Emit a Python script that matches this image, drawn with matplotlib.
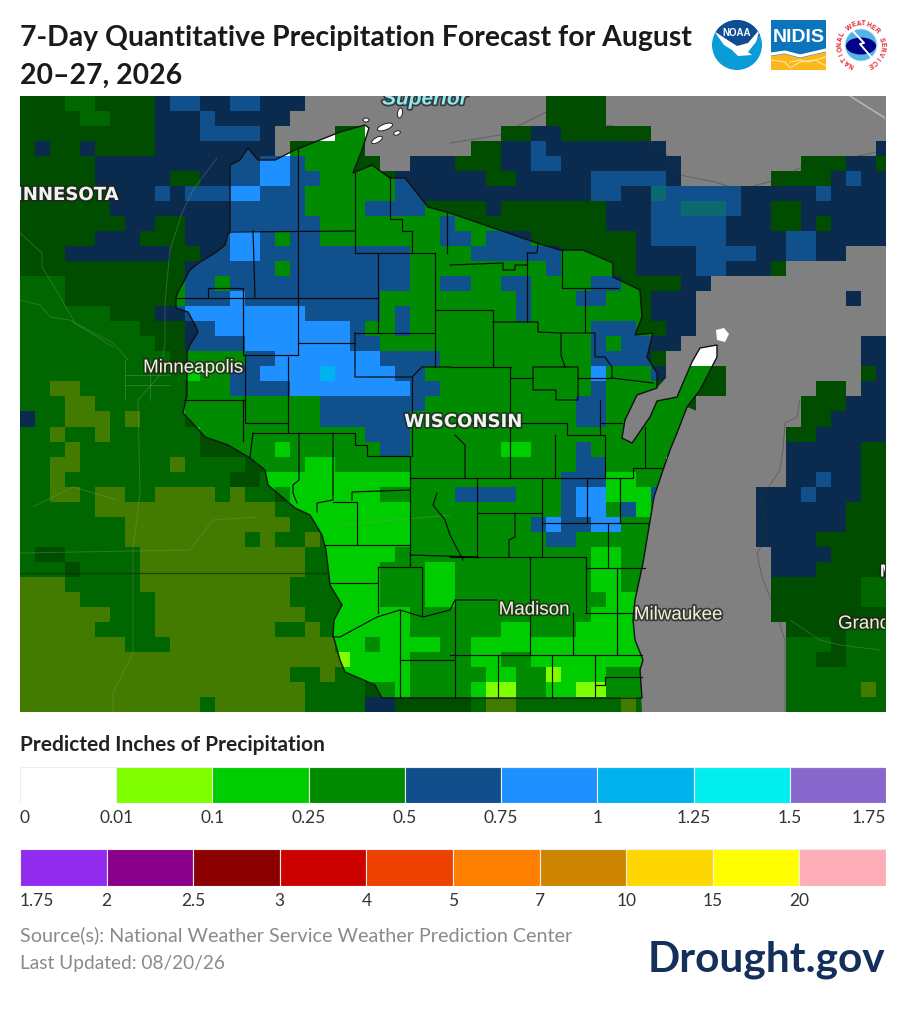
import numpy as np
import matplotlib
matplotlib.use("Agg")
import matplotlib.pyplot as plt
import matplotlib.patheffects as pe
from matplotlib.colors import ListedColormap
from matplotlib.path import Path
from matplotlib.patches import Polygon, Circle, Rectangle, Ellipse

# forecast class per grid cell (15 px cells)
# . = no data, 1 = 0.01-0.1, 2 = 0.1-0.25, 3 = 0.25-0.5, 4 = 0.5-0.75, 5 = 0.75-1, 6 = 1-1.25
grid_rows = [
    "333223333"+"4554455444"+"."*16+"3333"+"."*19,
    "333322333"+"444544444"+"."*17+"3333"+"."*19,
    "333333333"+"44455554"+"."*4+"33"+"."*9+"3344333333"+"."*16,
    "343343333"+"44444444"+"."+"33333"+"."*7+"33"+"44544444444"+"."*14+"4",
    "33333"+"444444444"+"44"+"55"+"4"+"3333"+"3"+".."+"444"+"333"+"44"+"55"+"44444444"+"."*8+"3334"+"43",
    "33333"+"44444"+"33"+"44"+"44"+"55"+"4"+"4"+"333"+"33"+"4"+"4"+"4444"+"33"+"44444"+"55555"+"4"+"."*6+"3333"+"4"+"5"+"44",
    "333333"+"444"+"5"+"4"+"555"+"55"+"444"+"333333"+"444"+"4444444444"+"55"+"44"+"6"+"55555"+"4"+"4444"+"5"+"4444",
    "333333"+"44444444"+"44444"+"3333"+"44"+"44"+"3"+"33"+"3"+"4"+"3333333"+"444"+"55"+"666"+"5"+"44"+"33"+"444444",
    "3333333"+"44"+"33"+"444"+"44444"+"4"+"333"+"33"+"333"+"4"+"33"+"33333333"+"4"+"44"+"55555"+"444"+"33"+"4"+"3"+"4444",
    "33333"+"444333444"+"55"+"4344"+"3"+"3333333"+"4"+"434"+"44"+"3333333"+"45"+"5555"+"4444"+"55"+"44444",
    "333"+"4444444"+"33"+"44"+"55"+"444"+"44444"+"44"+"33"+"3"+"3"+"4444"+"44"+"33333"+"4444"+"5555"+"44"+"55"+"44"+"...",
    "33333333333"+"44444"+"434"+"4444444"+"333"+"333333"+"4"+"3333"+"3"+"4444"+"55"+"444"+"3"+"."*7,
    "222"+"33333333"+"44"+"3"+"44"+"444"+"4444444"+"33"+"4"+"4"+"33"+"44"+"3333"+"44"+"33"+"33"+"44"+"."*12,
    "222"+"3333333"+"3"+"44"+"4"+"5"+"4444"+"44444"+"33"+"33"+"3"+"3333"+"4"+"333"+"44"+"333"+"444"+"."*10+"4"+"..",
    "222222"+"333"+"44"+"55"+"5"+"55555"+"44444"+"34"+"33"+"33333"+"4"+"33333333"+"44"+"4"+"."*13,
    "22222222"+"333"+"4"+"4"+"5"+"55555"+"555"+"43"+"34"+"3"*12+"444"+"33"+"44"+"."*13,
    "222222222"+"33"+"4"+"444"+"5555"+"555"+"44"+"3333"+"3"*10+"4"+"3"+"44"+"44"+"."*12+"44",
    "2"*10+"3"+"3333"+"44"+"55555"+"55"+"4"+"444"+"3"*10+"4444"+"3"+"."*13+"44",
    "2"*11+"2"+"33"+"44"+"55"+"5565"+"555"+"44"+"3"*11+"5"+"333"+"4"+"."+"3"+"33"+"."*9+"34",
    "22"+"11"+"2"*7+"333"+"4444"+"5555"+"5555"+"44"+"3"*10+"4"+"333"+"33"+"333"+"."*6+"33"+"."+"44",
    "222"+"11"+"222222"+"3333"+"333"+"33"+"44444"+"44"+"3"*10+"44"+"33"+"33"+"33"+"."*7+"333"+"444",
    "4"+"22"+"111"+"2"+"1"+"222"+"3333333"+"33"+"444444"+"33"+"3"*9+"44"+"33"+"33"+"33"+"."*7+"33"+"4444",
    "22"+"1"+"22"+"1"+"222222"+"3"*11+"444"+"3"*6+"33"+"333"+"33"+"3"+"33"+"33"+"."*7+"33"+"44444",
    "222"+"1"+"2"*8+"3333"+"32"+"333333"+"44"+"3"*6+"22"+"333"+"4"+"33333"+"3"+"."*7+"44444"+"33",
    "22"+"11"+"222222"+"1"+"2"+"222"+"33"+"33"+"22"+"3"+"3333"+"3"*10+"3"+"44"+"3333"+"."*8+"44444"+"33",
    "22"+"12"+"2"*10+"33"+"2"+"222"+"2"+"22222"+"3333"+"333333"+"4"+"44"+"22"+"33"+"."*8+"44"+"5"+"4"+"4"+"33",
    "22"+"11"+"2"+"11"+"22"+"111"+"1"+"2"+"1"+"22"+"3"+"2"+"22"+"22"+"2"+"33"+"333"+"4444"+"33"+"3"+"4"+"55"+"22"+"2"+"4"+"."*6+"444544"+"4"+"33",
    "22222"+"111"+"1"*7+"11"+"22"+"2222222"+"3"*6+"3333"+"4"+"55"+"3"+"4"+"2"+"3"+"."*6+"444444"+"333",
    "2"*7+"1"*11+"22"+"222222"+"3"*8+"4"+"5"+"44"+"55"+"333"+"."*6+"444444"+"333",
    "2"*7+"1"*8+"2"+"1"+"22"+"1"+"2"+"22222"+"3"*9+"44"+"333333"+"."*6+"4444"+"33333",
    "2"+"33"+"2"+"2222"+"1"*11+"22"+"2222"+"3"+"333"+"333"+"333333"+"22"+"33"+"."*8+"4444"+"3333",
    "222"+"3"+"2222"+"1"*11+"22"+"222"+"333"+"223"+"3"*8+"22"+"33"+"."*8+"444"+"3333"+"3",
    "111"+"22222"+"1"*10+"222"+"222"+"333"+"2"+"23"+"3"*8+"22"+"33"+"."*8+"333333"+"22",
    "1111"+"22222"+"1"*9+"222"+"222"+"333"+"223"+"3"*8+"3"+"222"+"."*8+"333333"+"22",
    "111111"+"222"+"1"*10+"22"+"22222"+"3"*12+"2"+"222"+"."*8+"3"*8,
    "11111"+"2222"+"1"*7+"1"+"22"+"1"+"2"+"22222"+"3"*6+"22"+"333"+"22222"+"."*9+"3333"+"222",
    "1"*7+"222"+"1"*11+"22"+"3"+"22"+"22"+"33"+"2"*12+"."*9+"222"+"3"+"222",
    "1"*21+"1"+"22"+"22"+"333"+"3"+"22"+"33"+"2"*8+"."*9+"22"+"33"+"222",
    "1"*18+"22"+"1"+"2"+"2"+"222"+"333"+"33"+"22"+"33"+"1"+"222"+"33"+"3"+"."*9+"2"*7,
    "1"*19+"222"+"2"+"33"+"2"+"3333"+"2"+"11"+"33"+"22"+"11"+"333"+"."*9+"22222"+"1"+"2",
    "1"*12+"2"+"1"*6+"22"+"22"+"44"+"3"+"333"+"3"+"2"+"11"+"2222222"+"1"+"2"+"."*9+"2"*7,
]
grid = np.array([[0 if c == "." else int(c) for c in r] for r in grid_rows])

# state outline, screen coordinates of the basemap
wi_outline = [(230,165),(240,160),(248,148),(258,160),(275,160),(295,150),(320,140),(340,132),(365,125),(369,128),
    (362,150),(353,173),(360,170),(372,165),(390,178),(405,178),(428,207),(450,213),(537,243),(560,250),(583,250),
    (613,263),(613,277),(640,290),(642,317),(635,335),(653,333),(647,357),(657,373),(657,388),(637,395),(625,420),
    (622,438),(632,443),(650,417),(657,401),(677,397),(692,362),(700,348),(717,345),(717,357),(700,390),(687,407),
    (677,433),(670,450),(663,470),(654,497),(648,533),(643,563),(635,600),(633,620),(635,640),(643,660),
    (640,670),(642,698),(382,698),(375,685),(345,672),(340,660),(333,635),(334,620),(342,605),(330,585),(326,550),
    (322,535),(310,515),(295,508),(268,485),(265,470),(250,458),(228,445),(205,437),(197,428),(183,413),(187,395),
    (187,372),(187,352),(190,345),(198,332),(195,325),(188,312),(176,308),(176,298),(178,292),(190,270),(200,262),
    (215,253),(225,245),(228,233),(230,233)]
island_outline = [(716,330),(724,328),(729,334),(725,342),(717,340)]
green_bay = [(657,388),(637,395),(625,420),(622,438),(632,443),(650,417),(657,401),(677,397),(692,362),(680,362)]
lake_michigan_west = [(687,407),(677,433),(670,450),(663,470),(654,497),(648,533),(643,563),(635,600),(633,620),(635,640),
    (643,660),(640,670),(642,712),(700,712),(720,420)]

county_lines = [
    [(298,150),(298,355)], [(230,232),(355,231)], [(253,231),(255,297)], [(355,173),(355,253),(435,253)],
    [(412,253),(412,231),(402,231),(402,219),(390,219),(390,177)], [(378,253),(378,332)], [(447,212),(447,253)],
    [(176,298),(208,298),(208,288),(243,288),(243,355),(298,355)], [(208,298),(378,298)], [(298,343),(355,343)],
    [(355,333),(435,333)], [(355,333),(355,377),(412,377),(422,367),(450,367)], [(435,253),(435,367)], [(435,310),(493,310),(493,367)],
    [(412,377),(412,456)], [(288,357),(288,433)], [(245,355),(245,423),(288,423)], [(184,400),(245,400)], [(243,400),(243,441)],
    [(253,433),(355,433),(355,445),(367,445),(367,456),(410,456)], [(253,433),(250,457)],
    [(299,433),(299,480),(293,485),(293,493),(297,503)], [(333,433),(333,500),(317,503),(317,512)],
    [(333,502),(357,502),(357,545)], [(352,500),(352,492),(410,490)], [(410,456),(410,567)], [(410,478),(605,478)],
    [(410,555),(477,557)], [(324,545),(410,545)], [(330,583),(378,583)], [(378,567),(378,613)], [(378,567),(422,567),(422,615)],
    [(333,637),(340,637),(377,617),(400,610),(423,617),(450,610),(455,600),(497,600)], [(400,610),(400,698)], [(400,660),(454,660)],
    [(437,493),(433,505),(445,520),(450,535),(463,560)],
    [(510,367),(510,478)], [(453,423),(567,423),(567,435),(605,435),(605,478)], [(455,435),(465,445),(465,478)],
    [(605,478),(633,478),(633,468),(663,468)], [(555,435),(555,478)], [(600,400),(600,435)], [(600,423),(622,423)], [(645,427),(645,468)],
    [(477,478),(477,557)], [(477,513),(542,513)], [(542,478),(542,557)], [(515,513),(515,537),(509,540),(509,557)],
    [(587,478),(587,523),(542,523)], [(587,523),(648,523)], [(608,523),(608,568)], [(620,478),(620,523)],
    [(450,557),(586,557),(586,613)], [(530,557),(530,655)], [(586,568),(645,568)], [(617,568),(617,655)],
    [(455,600),(455,698)], [(450,655),(642,655)], [(573,613),(573,655)], [(585,613),(635,613)],
    [(498,655),(498,698)], [(552,655),(552,698)], [(595,655),(595,698)], [(595,685),(605,685),(605,677),(642,677)],
    [(450,265),(503,263),(503,270),(515,270),(515,265),(527,265)], [(527,253),(537,253),(538,243)], [(527,253),(527,322)],
    [(493,322),(538,322),(538,332),(561,333),(595,333),(595,357),(605,357),(612,367),(612,378),(653,383)],
    [(562,250),(562,288),(618,288)], [(585,288),(585,332)],
    [(561,333),(561,355),(565,367),(533,367),(533,390),(556,390),(556,400),(578,400),(578,367),(565,367)],
    [(450,367),(511,367)], [(511,378),(533,378)], [(578,378),(612,378)],
]
road_lines = [
    [(217,158),(193,190),(182,213),(170,250),(165,303),(165,343),(160,375),(138,400),(140,493),(133,550),(133,653),(113,693),(113,712)],
    [(20,233),(42,253),(42,267),(58,293),(75,323),(113,343),(128,360)], [(20,300),(40,305),(50,317),(70,320),(113,347)],
    [(20,553),(190,550),(213,520),(257,517)], [(33,507),(73,487),(117,500)], [(125,360),(125,400)], [(150,360),(150,400)],
    [(125,385),(170,385)], [(125,375),(170,375)], [(340,525),(450,515)], [(790,620),(820,640),(840,645),(880,650)],
]
coast_lines = [
    [(800,400),(797,417),(785,423),(783,450),(780,470),(760,500),(765,517),(765,540),(757,553),(762,577),(775,610),(785,640),(785,712)],
    [(450,143),(500,135),(520,125),(550,110),(550,96)], [(590,130),(610,125),(640,135),(663,150),(680,175),(715,182),(740,190),(775,180),(810,163),(850,158),(885,150)],
]
island_blobs = [(385,127,16,6,-20),(377,140,12,5,-30),(400,113,5,10,10),(397,133,7,4,-20),(366,120,6,4,0)]
road_colour = "#7f9a7f"

# legend
legend_top_colours = ["#ffffff","#7fff00","#00cd00","#008b00","#104e8b","#1e90ff","#00b2ee","#00eeee","#8968cd"]
legend_top_labels = ["0","0.01","0.1","0.25","0.5","0.75","1","1.25","1.5","1.75"]
legend_bottom_colours = ["#912cee","#8b008b","#8b0000","#cd0000","#ee4000","#ff7f00","#cd8500","#ffd700","#ffff00","#ffaeb9"]
legend_bottom_labels = ["1.75","2","2.5","3","4","5","7","10","15","20"]

dim_colours = ["#808080","#437a00","#006600","#004d00","#0a2a4e","#10508c","#0b6a70"]
wi_colours = ["#ffffff","#7fff00","#00cd00","#008b00","#10508c","#1e90ff","#00b2ee"]

W, H = 905, 1013
plt.rcParams["font.family"] = ["Lato", "DejaVu Sans"]
fig = plt.figure(figsize=(W/100, H/100), dpi=100, facecolor="white")

def px_axes(x0, y0, x1, y1):
    return fig.add_axes([x0/W, 1-y1/H, (x1-x0)/W, (y1-y0)/H])

page = px_axes(0, 0, W, H)
page.set_xlim(0, W); page.set_ylim(H, 0); page.axis("off")

ax = px_axes(20, 96, 885, 712)
ax.imshow(grid, cmap=ListedColormap(dim_colours), vmin=0, vmax=6, extent=(20,890,712,96), aspect="auto", interpolation="nearest", zorder=1)
for lake in (green_bay, lake_michigan_west):
    ax.add_patch(Polygon(lake, closed=True, fc=dim_colours[0], ec="none", zorder=1.5))
im = ax.imshow(grid, cmap=ListedColormap(wi_colours), vmin=0, vmax=6, extent=(20,890,712,96), aspect="auto", interpolation="nearest", zorder=2)
verts, codes = [], []
for ring in (wi_outline, island_outline):
    verts += ring + [ring[0]]
    codes += [Path.MOVETO] + [Path.LINETO]*(len(ring)-1) + [Path.CLOSEPOLY]
im.set_clip_path(Path(verts, codes), transform=ax.transData)
ax.set_xlim(20, 885); ax.set_ylim(712, 96); ax.axis("off")

for line in road_lines:
    xs, ys = zip(*line)
    ax.plot(xs, ys, color=road_colour, lw=0.7, alpha=0.35, zorder=3)
for line in coast_lines:
    xs, ys = zip(*line)
    ax.plot(xs, ys, color="#333333", lw=0.6, alpha=0.45, zorder=3)
ax.plot([20,327], [573,573], color="#0c3300", lw=0.9, alpha=0.7, zorder=3)
ax.plot([850,885], [96,118], color="#b5b5b5", lw=1.2, zorder=3)
for line in county_lines:
    xs, ys = zip(*line)
    ax.plot(xs, ys, color="#0a0a0a", lw=0.85, solid_joinstyle="miter", zorder=3)
ax.add_patch(Polygon(wi_outline, closed=True, fill=False, ec="#111111", lw=1.0, zorder=3))
for x, y, w, h, ang in island_blobs:
    ax.add_patch(Ellipse((x, y), w, h, angle=ang, fc="white", ec="#222222", lw=0.7, zorder=3))

shadow = [pe.withStroke(linewidth=2.5, foreground="#222222", alpha=0.75)]
map_font = "Liberation Sans"
ax.text(118, 195, "MINNESOTA", color="#f2f2f2", fontsize=13, family="DejaVu Sans", weight="bold", ha="right", va="center",
        path_effects=shadow, clip_on=True, zorder=4)
ax.text(425, 99, "Superior", color="#8fe9ee", fontsize=15, family=map_font, style="italic", weight="bold", ha="center", va="center",
        path_effects=shadow, clip_on=True, zorder=4)
ax.text(193, 368, "Minneapolis", color="#f3f0d8", fontsize=13.5, family=map_font, ha="center", va="center", path_effects=shadow, zorder=4)
ax.text(463, 422, "WISCONSIN", color="#f2f2f2", fontsize=13, family="DejaVu Sans", weight="bold", ha="center", va="center", path_effects=shadow, zorder=4)
ax.text(534, 610, "Madison", color="#f3f0d8", fontsize=13.5, family=map_font, ha="center", va="center", path_effects=shadow, zorder=4)
ax.text(678, 615, "Milwaukee", color="#f3f0d8", fontsize=13.5, family=map_font, ha="center", va="center", path_effects=shadow, zorder=4)
ax.text(838, 624, "Grand Rapids", color="#f3f0d8", fontsize=13.5, family=map_font, ha="left", va="center", path_effects=shadow, clip_on=True, zorder=4)
ax.text(880, 572, "M", color="#f2f2f2", fontsize=12.5, family=map_font, weight="bold", ha="left", va="center", path_effects=shadow, clip_on=True, zorder=4)

page.text(20, 38, "7-Day Quantitative Precipitation Forecast for August", fontsize=20.4, weight="bold", color="#1a1a1a", va="center")
page.text(20, 76, "20–27, 2026", fontsize=20.4, weight="bold", color="#1a1a1a", va="center")
page.text(20, 745, "Predicted Inches of Precipitation", fontsize=15, weight="bold", color="#222222", va="center")
page.text(20, 935, "Source(s): National Weather Service Weather Prediction Center", fontsize=14.2, color="#8a8a8a", va="center")
page.text(20, 963, "Last Updated: 08/20/26", fontsize=13.8, color="#8a8a8a", va="center")
page.text(885, 960, "Drought.gov", fontsize=30.5, weight="bold", color="#14305a", va="center", ha="right")

def legend_bar(box, colours, labels, last_right):
    leg = px_axes(*box)
    leg.bar(np.arange(len(colours))+0.5, 1, width=1, color=colours, edgecolor="#eeeeee", linewidth=0.8)
    leg.set_xlim(0, len(colours)); leg.set_ylim(0, 1); leg.set_yticks([])
    leg.set_xticks(np.arange(len(labels)))
    leg.set_xticklabels(labels, fontsize=12.5, color="#333333")
    leg.tick_params(axis="x", length=0, pad=5)
    leg.get_xticklabels()[0].set_ha("left")
    if last_right:
        leg.get_xticklabels()[-1].set_ha("right")
    for s in leg.spines.values():
        s.set_visible(False)
    return leg

legend_bar((20, 767, 886, 803), legend_top_colours, legend_top_labels, True)
legend_bar((20, 849, 886, 886), legend_bottom_colours, legend_bottom_labels, False)

# logos
logo = px_axes(700, 10, 905, 80)
logo.set_xlim(700, 905); logo.set_ylim(80, 10); logo.axis("off")
disc = Circle((737, 45), 25, fc="#0a9bd9", ec="none")
logo.add_patch(disc)
dome = Polygon([(712,20),(762,20),(762,33),(750,44),(737,48),(726,40),(712,32)], fc="#0e4d92", ec="none")
logo.add_patch(dome); dome.set_clip_path(disc)
bird = Polygon([(714,31),(726,39),(737,46),(748,43),(760,29),(756,42),(748,52),(752,55),(738,56),(732,50),(724,45)], fc="white", ec="none")
logo.add_patch(bird); bird.set_clip_path(disc)
logo.text(737, 33, "NOAA", color="white", fontsize=7, weight="bold", ha="center", va="center", family="Liberation Sans")
logo.add_patch(Rectangle((771, 20), 55, 50, fc="#0b74ba", ec="none"))
logo.text(798.5, 37, "NIDIS", color="white", fontsize=14, weight="bold", ha="center", va="center", family="Liberation Sans")
logo.add_patch(Polygon([(771,56),(785,54),(800,58),(826,52),(826,70),(771,70)], fc="#fdb71a", ec="none"))
logo.plot([771,785,800,826], [54,52,56,50], color="white", lw=2.2)
logo.plot([771,785,790,800,815,826], [60,62,68,62,60,66], color="#fde7a8", lw=0.8)
logo.plot([790,800,808,826], [62,60,62,57], color="#fde7a8", lw=0.8)
logo.add_patch(Circle((861, 45), 16, fc="#56b4e3", ec="#cfe8f5", lw=0.5))
logo.add_patch(Ellipse((861, 46), 30, 17, fc="#00008b", ec="none"))
logo.plot([852,864,860,872], [30,43,44,58], color="white", lw=1.4)
ring = "NATIONAL WEATHER SERVICE"
for i, ch in enumerate(ring):
    a = np.deg2rad(-155 + i*(310/(len(ring)-1)))
    logo.text(861+21*np.sin(a), 45-21*np.cos(a), ch, color="#e31b23", fontsize=4.8, weight="bold", ha="center", va="center",
              rotation=-np.rad2deg(a), family="Liberation Sans")

fig.savefig("out.png", dpi=100)
